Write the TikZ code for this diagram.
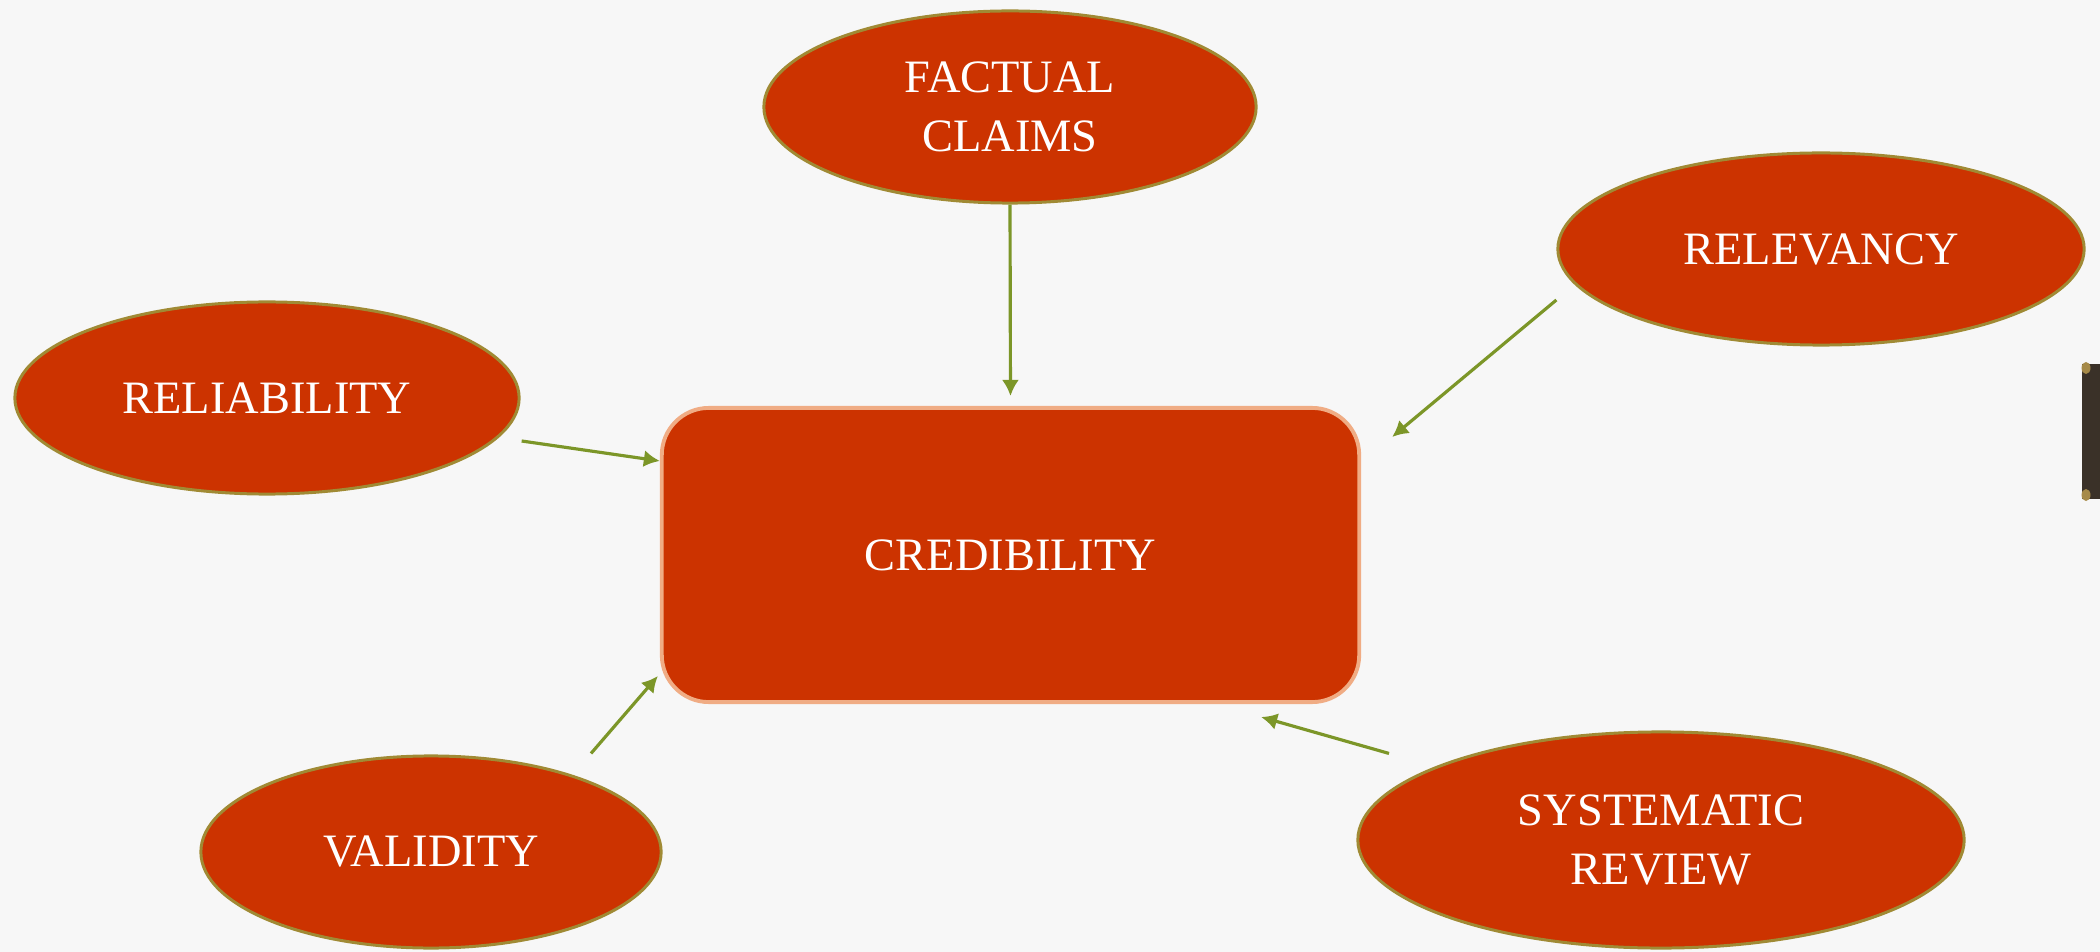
\documentclass[tikz,border=0pt]{standalone}
\usepackage{fontspec}
\setmainfont{Liberation Serif}
\usetikzlibrary{arrows.meta,positioning,calc,shapes.geometric}
\definecolor{NodeRed}   {RGB}{204,51,0}
\definecolor{RimOlive}  {RGB}{160,138,52}
\definecolor{RimPeach}  {RGB}{240,172,132}
\definecolor{ArrowGreen}{RGB}{124,150,40}
\definecolor{PaperGrey} {RGB}{247,247,247}
\definecolor{BarBrown}  {RGB}{58,49,40}
\definecolor{BarGold}   {RGB}{166,138,72}

\begin{document}
\begin{tikzpicture}[x=0.01cm,y=-0.01cm,
  bub/.style={ellipse,draw=RimOlive,fill=NodeRed,line width=0.85pt,
              minimum height=1.92cm,text=white,align=center,inner sep=0pt,
              font=\fontsize{13.2}{16.8}\selectfont},
  hub/.style={draw=RimPeach,fill=NodeRed,line width=1.1pt,rounded corners=0.47cm,
              minimum width=6.97cm,minimum height=2.94cm,text=white,
              font=\fontsize{13.2}{16.8}\selectfont},
  arr/.style={-{Latex[length=0.16cm,width=0.17cm]},ArrowGreen,line width=0.9pt}]
  % page and its margins
  \fill[PaperGrey] (0,0) rectangle (2100,952);
  \useasboundingbox (0,0) rectangle (2100,952);
  % centre box
  \node[hub](cred) at (1010.5,555){CREDIBILITY};
  % surrounding ideas
  \node[bub,minimum width=4.92cm](fact) at (1010,107){FACTUAL\\CLAIMS};
  \node[bub,minimum width=5.26cm](relev) at (1821,249){RELEVANCY};
  \node[bub,minimum width=5.04cm](reliab) at (267,398){RELIABILITY};
  \node[bub,minimum width=4.60cm](valid) at (431,852){VALIDITY};
  \node[bub,minimum width=6.06cm,minimum height=2.16cm]
       (sysrev) at (1661,840){SYSTEMATIC\\REVIEW};
  % arrows into the box
  \draw[arr,shorten >=0.1cm](fact.south)--(cred.north);
  \draw[arr]([shift={(0,51)}]relev.west)--([shift={(31,31)}]cred.north east);
  \draw[arr]([shift={(1,43)}]reliab.east)--([shift={(0,55)}]cred.north west);
  \draw[arr]([shift={(160,-1)}]valid.north)--([shift={(-2,-28)}]cred.south west);
  \draw[arr]([shift={(-272,23)}]sysrev.north)--([shift={(-100,13)}]cred.south east);
  % bar cut off at the right edge
  \fill[BarBrown] (2082,364) rectangle (2100,499);
  \fill[BarGold] (2086,368) ellipse [x radius=0.045cm,y radius=0.06cm];
  \fill[BarGold] (2086,495) ellipse [x radius=0.045cm,y radius=0.06cm];
\end{tikzpicture}
\end{document}
